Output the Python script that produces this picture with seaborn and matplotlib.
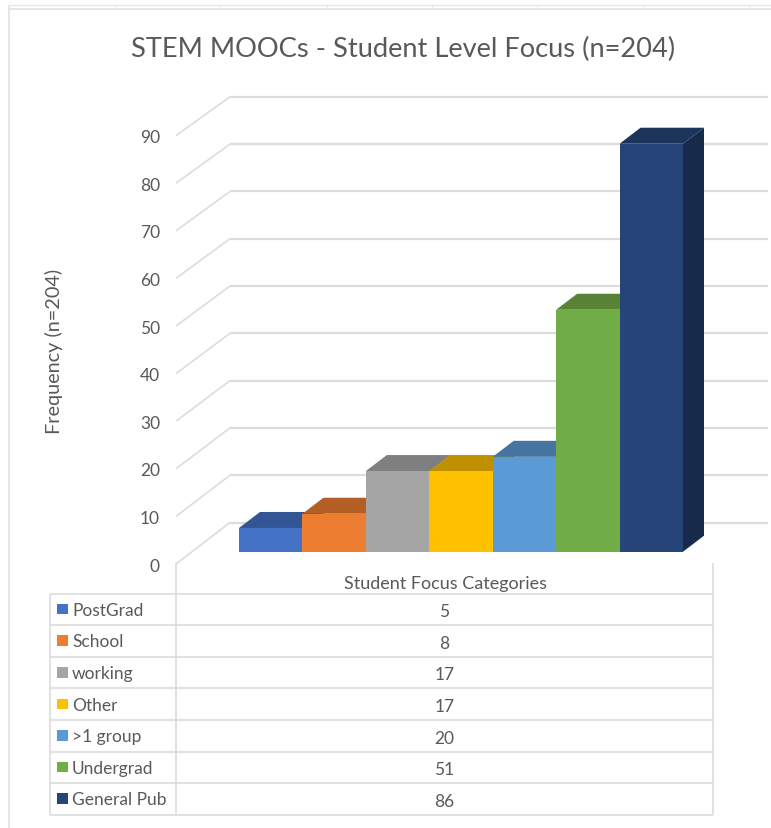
import matplotlib
matplotlib.use("Agg")
import matplotlib.pyplot as plt
from matplotlib.patches import Polygon, Rectangle
import pandas as pd
import seaborn as sns

# Chart content
TITLE = "STEM MOOCs - Student Level Focus (n=204)"
Y_TITLE = "Frequency (n=204)"
X_TITLE = "Student Focus Categories"
categories = ["PostGrad", "School", "working", "Other", ">1 group", "Undergrad", "General Pub"]
frequencies = [5, 8, 17, 17, 20, 51, 86]
y_ticks = [0, 10, 20, 30, 40, 50, 60, 70, 80, 90]

# Face colours for the extruded bars
front_colors = ["#4472C4", "#ED7D31", "#A5A5A5", "#FFC000", "#5B9BD5", "#70AD47", "#264478"]
top_colors = ["#335593", "#B35E25", "#7F7F7F", "#BF9000", "#44749F", "#5A8235", "#1C335A"]
side_colors = ["#2B4A80", "#9C5120", "#6E6E6E", "#A67D00", "#3B6589", "#4B6E2C", "#172A4A"]

GRID = "#DCDCDC"
TEXT = "#595959"

W, H = 771, 829
BAR_LEFT, BAR_RIGHT = 239.0, 683.0
BAR_BASE = 552.7
PX_PER_UNIT = 4.744
DEPTH_X, DEPTH_Y = 21.0, 16.0
WALL_BASE, WALL_UNIT = 523.5, 4.73
FLOOR_BASE, FLOOR_UNIT = 565.0, 4.76
WALL_LEFT, FLOOR_LEFT, WALL_RIGHT = 230.0, 176.0, 768.0
TABLE_LEFT, TABLE_DIVIDER, TABLE_RIGHT = 50.0, 176.0, 713.0
TABLE_TOP, ROW_H = 594.5, 31.6
HEADER_TOP = 564.0

sns.set_theme(style="white")
plt.rcParams["font.family"] = ["Lato", "DejaVu Sans"]

fig = plt.figure(figsize=(W / 100, H / 100), dpi=100, facecolor="white")

# Layout layer in image pixels: frame, back wall, floor and table
page = fig.add_axes([0, 0, 1, 1], zorder=1)
page.set_xlim(0, W)
page.set_ylim(H, 0)
page.axis("off")


def rule(x0, y0, x1, y1, width=1.4, color=GRID):
    page.plot([x0, x1], [y0, y1], color=color, lw=width, solid_capstyle="butt")


# Window edges around the chart
rule(8.5, 6, W, 6, 1.0, "#E6E6E6")
rule(8.5, 10, W, 10, 1.2, "#E0E0E0")
rule(8.5, 6, 8.5, H, 1.2, "#E0E0E0")
for tick_x in (115, 220, 327, 432, 537, 643, 749):
    rule(tick_x, 6, tick_x, 10, 0.8, "#E6E6E6")

# Gridlines on the back wall and the slanted side wall
for tick in y_ticks:
    wall_y = WALL_BASE - tick * WALL_UNIT
    floor_y = FLOOR_BASE - tick * FLOOR_UNIT
    rule(WALL_LEFT, wall_y, WALL_RIGHT, wall_y, 1.6)
    rule(FLOOR_LEFT, floor_y, WALL_LEFT, wall_y, 1.2)
    page.text(160, floor_y + 1.5, str(tick), ha="right", va="center",
              fontsize=12.5, color=TEXT)

# Data table below the plot
n = len(categories)
table_bottom = TABLE_TOP + n * ROW_H
rule(TABLE_DIVIDER, HEADER_TOP, TABLE_DIVIDER, table_bottom, 1.2)
rule(TABLE_RIGHT, HEADER_TOP, TABLE_RIGHT, table_bottom, 1.2)
rule(TABLE_LEFT, TABLE_TOP, TABLE_LEFT, table_bottom, 1.2)
for row in range(n + 1):
    row_y = TABLE_TOP + row * ROW_H
    rule(TABLE_LEFT, row_y, TABLE_RIGHT, row_y, 1.2)
table_mid = (TABLE_DIVIDER + TABLE_RIGHT) / 2
for row, (name, value, color) in enumerate(zip(categories, frequencies, front_colors)):
    mid = TABLE_TOP + (row + 0.5) * ROW_H
    page.add_patch(Rectangle((57, mid - 5.5), 10.5, 10.5, facecolor=color, edgecolor="none"))
    page.text(72, mid + 0.5, name, ha="left", va="center", fontsize=12.5, color=TEXT)
    page.text(table_mid, mid + 2, str(value), ha="center", va="center", fontsize=12.5, color=TEXT)

page.text(table_mid + 0.5, 584, X_TITLE, ha="center", va="center", fontsize=13, color=TEXT)
page.text(54, 351, Y_TITLE, ha="center", va="center", rotation=90, fontsize=14.3, color=TEXT)
page.text(403, 49, TITLE, ha="center", va="center", fontsize=19.6, color=TEXT)

# Bars: data axes laid over the page, scaled so one category is one bar width
bars = fig.add_axes([0, 0, 1, 1], zorder=2)
bars.patch.set_alpha(0)
table = pd.DataFrame({"category": categories, "frequency": frequencies})
sns.barplot(data=table, x="category", y="frequency", hue="category", palette=front_colors,
            order=categories, hue_order=categories, width=1.0, dodge=False, legend=False,
            saturation=1, linewidth=0, edgecolor="none", ax=bars, zorder=5)

cat_px = (BAR_RIGHT - BAR_LEFT) / n
bars.set_xlim(-0.5 - BAR_LEFT / cat_px, -0.5 + (W - BAR_LEFT) / cat_px)
bars.set_ylim((BAR_BASE - H) / PX_PER_UNIT, BAR_BASE / PX_PER_UNIT)
bars.axis("off")

# Extrude each bar backwards: top and right faces sit beneath the front faces
dx = DEPTH_X / cat_px
dy = DEPTH_Y / PX_PER_UNIT
for i, value in enumerate(frequencies):
    left, right = i - 0.5, i + 0.5
    bars.add_patch(Polygon([(left, value), (right, value), (right + dx, value + dy), (left + dx, value + dy)],
                           closed=True, facecolor=top_colors[i], edgecolor="none", zorder=2 + i * 0.1))
    bars.add_patch(Polygon([(right, 0), (right + dx, dy), (right + dx, value + dy), (right, value)],
                           closed=True, facecolor=side_colors[i], edgecolor="none", zorder=2 + i * 0.1))

fig.savefig("out.png", dpi=100, facecolor="white")
